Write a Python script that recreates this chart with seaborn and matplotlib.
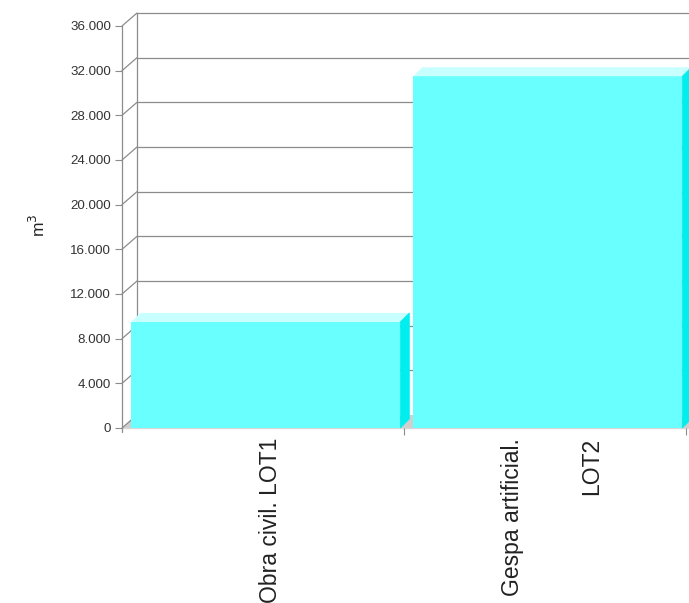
import matplotlib
matplotlib.use("Agg")
import matplotlib.pyplot as plt
from matplotlib.transforms import IdentityTransform
from matplotlib.patches import Polygon
import seaborn as sns
import pandas as pd

# data
categories = ["Obra civil. LOT1", "Gespa artificial.\nLOT2"]
volumes = [9500, 31500]
y_ticks = [0, 4000, 8000, 12000, 16000, 20000, 24000, 28000, 32000, 36000]
y_tick_labels = ["0", "4.000", "8.000", "12.000", "16.000", "20.000",
                 "24.000", "28.000", "32.000", "36.000"]

FRONT = "#69ffff"
TOP = "#c8ffff"
SIDE = "#00eeee"
GRID = "#8c8c8c"
FLOOR = "#cfcfcf"
WALL_DX, WALL_DY = 15, 13   # pixel depth of the back wall
BAR_DX, BAR_DY = 9, 9       # pixel depth of the bars

sns.set_theme(style="white")
plt.rcParams["font.family"] = ["Liberation Sans", "DejaVu Sans"]

fig = plt.figure(figsize=(6.89, 6.03), dpi=100)
W, H = 689, 603
ax = fig.add_axes([122 / W, (H - 428) / H, (686 - 122) / W, (428 - 26) / H])

df = pd.DataFrame({"cat": categories, "vol": volumes})
sns.barplot(data=df, x="cat", y="vol", color=FRONT, saturation=1,
            width=0.954, ax=ax, zorder=2, linewidth=0)
ax.set_xlim(-0.5, 1.5)
ax.set_ylim(0, 36000)
for s in ax.spines.values():
    s.set_visible(False)

# bars sit slightly right of the category centre in the original
for p in ax.patches:
    p.set_x(p.get_x() + 0.01)

ax.set_yticks(y_ticks)
ax.set_yticklabels(y_tick_labels, fontsize=9.6, color="#333333")
ax.tick_params(axis="y", left=True, length=5, width=0.8, color=GRID, pad=3)
# labels centred on bar + depth, a little right of the category centre
ax.set_xticks([0.025, 1.025])
ax.set_xticklabels(categories, rotation=90, fontsize=16.5, color="#222222",
                   va="top", ha="center", multialignment="right",
                   linespacing=4.1)
ax.set_xticks([0.5, 1.5], minor=True)
ax.tick_params(axis="x", which="major", length=0, pad=7)
ax.tick_params(axis="x", which="minor", bottom=True, length=5, width=0.8, color=GRID)
ax.set_xlabel("")
ax.set_ylabel("m$^3$", fontsize=12.5, color="#222222")
ax.yaxis.set_label_coords(-0.132, 0.505)

ident = IdentityTransform()
tr = ax.transData
x0, y0 = tr.transform((-0.5, 0))
x1, _ = tr.transform((1.5, 0))
_, ytop = tr.transform((-0.5, 36000))
xr = W + 20

# floor
floor = Polygon([(x0, y0), (x0 + WALL_DX, y0 + WALL_DY), (xr, y0 + WALL_DY), (xr, y0)],
                closed=True, facecolor=FLOOR, edgecolor="none",
                transform=ident, clip_on=False, zorder=0.3)
ax.add_patch(floor)
ax.plot([x0, xr], [y0, y0], color="#d8d8d8", lw=1, transform=ident,
        clip_on=False, zorder=0.4)

# walls and gridlines
ax.plot([x0, x0], [y0 - 4, ytop], color=GRID, lw=0.9, transform=ident, clip_on=False, zorder=0.5)
ax.plot([x0 + WALL_DX] * 2, [y0 + WALL_DY, ytop + WALL_DY], color=GRID, lw=0.9,
        transform=ident, clip_on=False, zorder=0.5)
for v in y_ticks:
    _, yy = tr.transform((-0.5, v))
    ax.plot([x0, x0 + WALL_DX], [yy, yy + WALL_DY], color=GRID, lw=0.9,
            transform=ident, clip_on=False, zorder=0.5)
    if v > 0:
        ax.plot([x0 + WALL_DX, xr], [yy + WALL_DY] * 2, color=GRID, lw=0.9,
                transform=ident, clip_on=False, zorder=0.5)

# 3D faces of the bars
for p in list(ax.patches):
    if p is floor:
        continue
    bx, by = p.get_x(), p.get_y()
    bw, bh = p.get_width(), p.get_height()
    (lx, bot), (rx, top) = tr.transform([(bx, by), (bx + bw, by + bh)])
    top_face = Polygon([(lx, top), (lx + BAR_DX, top + BAR_DY),
                        (rx + BAR_DX, top + BAR_DY), (rx, top)],
                       closed=True, facecolor=TOP, edgecolor="none",
                       transform=ident, clip_on=False, zorder=2.1)
    side_face = Polygon([(rx, bot), (rx, top), (rx + BAR_DX, top + BAR_DY),
                         (rx + BAR_DX, bot + BAR_DY)],
                        closed=True, facecolor=SIDE, edgecolor=SIDE, lw=0.5,
                        transform=ident, clip_on=False, zorder=2.1)
    ax.add_patch(top_face)
    ax.add_patch(side_face)

fig.savefig("out.png", dpi=100)
